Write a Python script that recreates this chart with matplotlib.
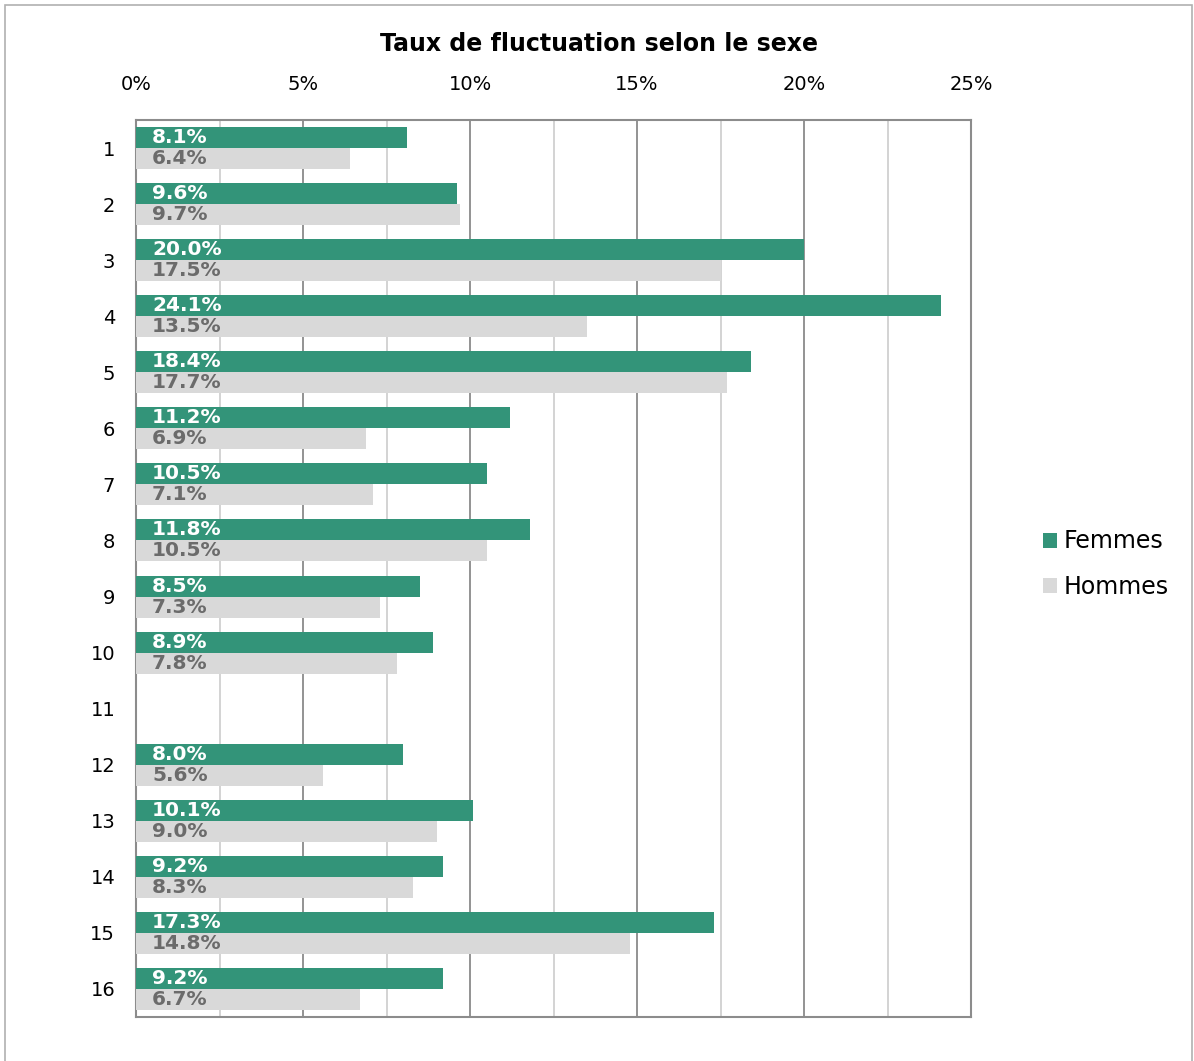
"""Taux de fluctuation selon le sexe - horizontal grouped bars."""

import numpy as np
import matplotlib.pyplot as plt
from matplotlib.patches import Rectangle
from matplotlib.ticker import MultipleLocator, FuncFormatter

categories = [str(i) for i in range(1, 17)]
femmes = [8.1, 9.6, 20.0, 24.1, 18.4, 11.2, 10.5, 11.8, 8.5, 8.9, np.nan, 8.0, 10.1, 9.2, 17.3, 9.2]
hommes = [6.4, 9.7, 17.5, 13.5, 17.7, 6.9, 7.1, 10.5, 7.3, 7.8, np.nan, 5.6, 9.0, 8.3, 14.8, 6.7]
series_names = ["Femmes", "Hommes"]

GREEN = "#339479"
GREY = "#d9d9d9"
FRAME = "#8c8c8c"

fig = plt.figure(figsize=(11.94, 10.61), dpi=100)
ax = fig.add_axes([136 / 1194, 1 - 1017 / 1061, (971 - 136) / 1194, (1017 - 120) / 1061])

y = np.arange(len(categories))
h = 0.375
bars_f = ax.barh(y - h / 2, femmes, height=h, color=GREEN, label=series_names[0], zorder=3)
bars_h = ax.barh(y + h / 2, hommes, height=h, color=GREY, label=series_names[1], zorder=3)

for bars, vals, col in [(bars_f, femmes, "white"), (bars_h, hommes, "#6b6b6b")]:
    for b, v in zip(bars, vals):
        if np.isnan(v):
            continue
        ax.annotate(f"{v:.1f}%", xy=(0, b.get_y() + b.get_height() / 2),
                    xytext=(16, 0), textcoords="offset pixels",
                    ha="left", va="center", fontsize=14.5, fontweight="bold",
                    color=col, zorder=4)

ax.set_xlim(0, 25)
ax.set_ylim(len(categories) - 0.5, -0.5)
ax.set_yticks(y)
ax.set_yticklabels(categories)
ax.xaxis.set_major_locator(MultipleLocator(5))
ax.xaxis.set_minor_locator(MultipleLocator(2.5))
ax.xaxis.set_major_formatter(FuncFormatter(lambda v, p: f"{v:.0f}%"))
ax.xaxis.tick_top()
ax.tick_params(axis="both", which="both", length=0, labelsize=14)
ax.tick_params(axis="x", pad=19)
ax.tick_params(axis="y", pad=15)
ax.grid(axis="x", which="major", color="#8a8a8a", linewidth=1.3, zorder=0)
ax.grid(axis="x", which="minor", color="#d0d0d0", linewidth=1.3, zorder=0)
for s in ax.spines.values():
    s.set_color(FRAME)
    s.set_linewidth(1.5)

fig.text(599 / 1194, 1 - 44 / 1061, "Taux de fluctuation selon le sexe",
         fontsize=17, fontweight="bold", ha="center", va="center")

fig.legend(handles=[bars_f, bars_h], labels=series_names, loc="center left",
           bbox_to_anchor=(1022 / 1194, 1 - 564 / 1061), frameon=False,
           fontsize=17, handlelength=0.6, handleheight=0.6, handletextpad=0.25,
           labelspacing=0.9)

fig.patches.append(Rectangle((5 / 1194, -0.01), 1187 / 1194, 1 - 5 / 1061 + 0.01,
                             transform=fig.transFigure, fill=False,
                             edgecolor="#b0b0b0", linewidth=1.2))

fig.savefig("out.png", dpi=100)
